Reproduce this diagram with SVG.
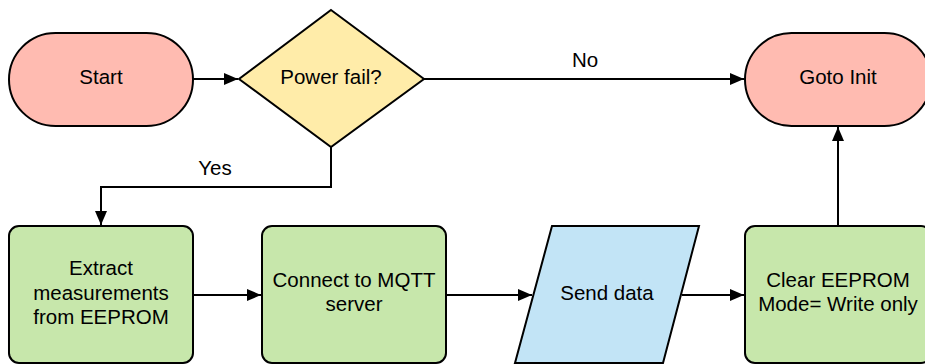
<svg xmlns="http://www.w3.org/2000/svg" width="925" height="364" viewBox="0 0 925 364">
<style>
.n{stroke:#000;stroke-width:2}
.term{fill:#ffbbb1}
.dec{fill:#ffeca9}
.proc{fill:#c7e7ab}
.io{fill:#c2e4f6}
.e{fill:none;stroke:#000;stroke-width:2}
text{font-family:"Liberation Sans",Arial,sans-serif;font-size:20.5px;fill:#000;text-anchor:middle}
</style>
<defs>
<marker id="ah" viewBox="0 0 14 12" refX="14" refY="6" markerWidth="14" markerHeight="12" markerUnits="userSpaceOnUse" orient="auto">
<path d="M0,0 L14,6 L0,12 Z" fill="#000"/>
</marker>
</defs>
<g id="connectors">
<path class="e" d="M193,79 H238" marker-end="url(#ah)"/>
<path class="e" d="M424,79 H744" marker-end="url(#ah)"/>
<path class="e" d="M331,147 V187 H101 V225" marker-end="url(#ah)"/>
<path class="e" d="M193,295 H261" marker-end="url(#ah)"/>
<path class="e" d="M446,295 H532" marker-end="url(#ah)"/>
<path class="e" d="M682,295 H744" marker-end="url(#ah)"/>
<path class="e" d="M838,226 V127" marker-end="url(#ah)"/>
<text x="585" y="67">No</text>
<text x="215" y="175">Yes</text>
</g>
<g id="start">
<rect class="n term" x="9" y="33" width="184" height="93" rx="46.5"/>
<text x="101" y="84">Start</text>
</g>
<g id="powerfail">
<polygon class="n dec" points="331,10 424,79 331,147 239,79"/>
<text x="331" y="84">Power fail?</text>
</g>
<g id="gotoinit">
<rect class="n term" x="745" y="33" width="186" height="93" rx="46.5"/>
<text x="838" y="84">Goto Init</text>
</g>
<g id="extract">
<rect class="n proc" x="9" y="226" width="184" height="137" rx="10"/>
<text x="101" y="275">Extract</text>
<text x="101" y="300">measurements</text>
<text x="101" y="324">from EEPROM</text>
</g>
<g id="connect">
<rect class="n proc" x="262" y="226" width="184" height="137" rx="10"/>
<text x="354" y="287">Connect to MQTT</text>
<text x="354" y="311">server</text>
</g>
<g id="send">
<polygon class="n io" points="552,226 699,226 663,363 515,363"/>
<text x="607" y="300">Send data</text>
</g>
<g id="clear">
<rect class="n proc" x="745" y="226" width="186" height="137" rx="10"/>
<text x="838" y="287">Clear EEPROM</text>
<text x="838" y="311">Mode= Write only</text>
</g>
</svg>
